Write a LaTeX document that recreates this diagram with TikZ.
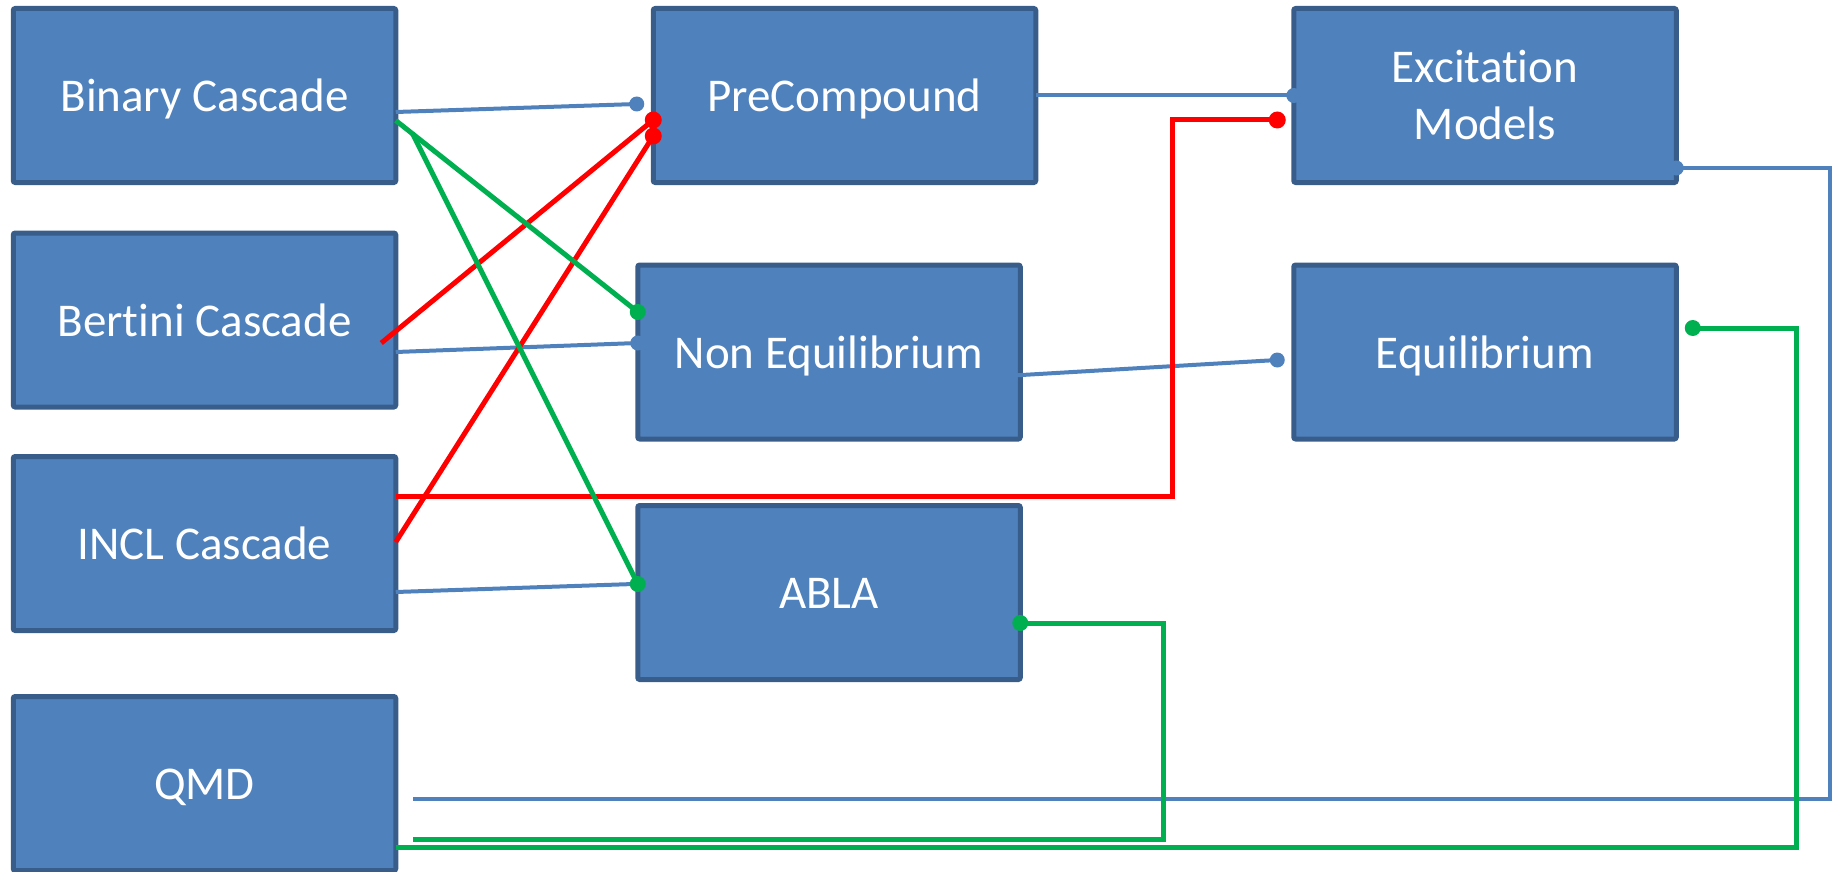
\documentclass[tikz,border=0pt]{standalone}
\usepackage{fontspec}
\setmainfont{Carlito}[Ligatures=NoCommon]
\definecolor{boxfill}{HTML}{4F81BD}
\definecolor{boxline}{HTML}{385D8A}
\definecolor{linkblue}{HTML}{4F81BD}
\definecolor{linkred}{HTML}{FF0000}
\definecolor{linkgreen}{HTML}{00B050}
\begin{document}
\begin{tikzpicture}[x=1pt,y=-1pt,
  model/.style={draw=boxline, fill=boxfill, line width=5pt, rounded corners=2pt,
    minimum width=382.5pt, minimum height=174pt, inner sep=0pt, outer sep=0pt,
    text=white, font=\fontsize{47}{57}\selectfont, align=center},
  oneline/.style={model, text height=32.5pt, text depth=0pt},
  bluelink/.style={draw=linkblue, line width=4pt},
  redlink/.style={draw=linkred, line width=5pt},
  greenlink/.style={draw=linkgreen, line width=5pt},
  bluedot/.style={circle, fill=linkblue, inner sep=0pt, minimum size=15pt},
  reddot/.style={circle, fill=linkred, inner sep=0pt, minimum size=17pt},
  greendot/.style={circle, fill=linkgreen, inner sep=0pt, minimum size=16pt},
]
\useasboundingbox (0,0) rectangle (1843,872);

% model boxes
\node[oneline] (bin)  at (204.5,95.5)  {Binary Cascade};
\node[oneline] (ber)  at (204.5,320)   {Bertini Cascade};
\node[oneline] (incl) at (204.5,543.5) {INCL Cascade};
\node[oneline] (qmd)  at (204.5,783.5) {QMD};
\node[oneline] (pre)  at (844.5,95.5)  {PreCompound};
\node[oneline] (neq)  at (829,352)     {Non Equilibrium};
\node[oneline] (abla) at (829,592.5)   {ABLA};
\node[model]   (exc)  at (1485,95.5)   {Excitation\\Models};
\node[oneline] (equ)  at (1485,352)    {Equilibrium};

% blue links
\draw[bluelink] ([shift={(0,16.5)}]bin.east) -- ([shift={(-16.5,8.5)}]pre.west) node[bluedot]{};
\draw[bluelink] ([shift={(0,32)}]ber.east) -- ([shift={(0,-9)}]neq.west) node[bluedot]{};
\draw[bluelink] ([shift={(0,48.5)}]incl.east) -- ([shift={(-4,-8.5)}]abla.west);
\draw[bluelink] (pre.east) -- (exc.west) node[bluedot]{};
\draw[bluelink] ([shift={(-15.5,24)}]neq.east) -- ([shift={(-16.5,8)}]equ.west) node[bluedot]{};
\draw[bluelink] ([shift={(0,72.5)}]exc.east) node[bluedot]{} -- ++(153.5,0) |- ([shift={(17.5,15.5)}]qmd.east);

% red links
\draw[redlink] ([shift={(-14.5,23)}]ber.east) -- ([shift={(0,24.5)}]pre.west) node[reddot]{};
\draw[redlink] ([shift={(0,-1.5)}]incl.east) -- ([shift={(0,40.5)}]pre.west) node[reddot]{};
\draw[redlink] ([shift={(-16.5,24.5)}]exc.west) node[reddot]{} -- ++(-105,0) |- ([shift={(0,-47.5)}]incl.east);

% green links
\draw[greenlink] ([shift={(0,25)}]bin.east) -- ([shift={(0,-40)}]neq.west) node[greendot]{};
\draw[greenlink] ([shift={(16.5,37.5)}]bin.east) -- ([shift={(0,-8.5)}]abla.west) node[greendot]{};
\draw[greenlink] ([shift={(0,30.5)}]abla.east) node[greendot]{} -- ++(143,0) |- ([shift={(17.5,55.5)}]qmd.east);
\draw[greenlink] ([shift={(16.5,-24)}]equ.east) node[greendot]{} -- ++(104,0) |- ([shift={(0,63.5)}]qmd.east);
\end{tikzpicture}
\end{document}
